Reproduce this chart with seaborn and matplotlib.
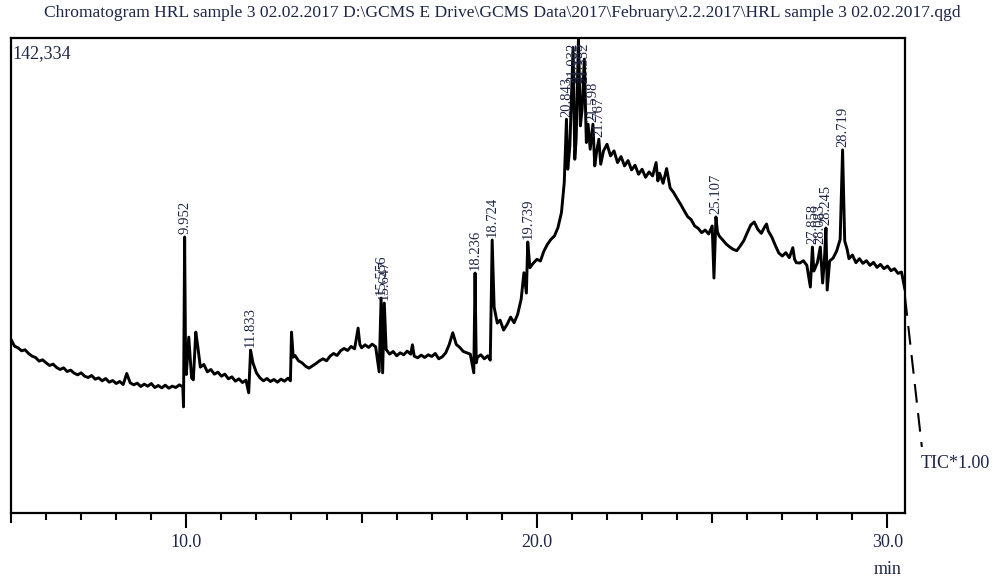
from matplotlib import pyplot as plt
from matplotlib.transforms import blended_transform_factory
import seaborn as sns
import pandas as pd

# retention time (min) and TIC intensity (x1000 counts)
times = [5.0, 5.1, 5.2, 5.3, 5.4, 5.5, 5.6, 5.7, 5.8, 5.9,
         6.0, 6.1, 6.2, 6.3, 6.4, 6.5, 6.6, 6.7, 6.8, 6.9,
         7.0, 7.1, 7.2, 7.3, 7.4, 7.5, 7.6, 7.7, 7.8, 7.9,
         8.0, 8.1, 8.2, 8.3, 8.4, 8.5, 8.6, 8.7, 8.8, 8.9,
         9.0, 9.1, 9.2, 9.3, 9.4, 9.5, 9.6, 9.7, 9.8, 9.9,
         9.92, 9.952, 9.98, 10.0, 10.07, 10.15, 10.2, 10.27, 10.33, 10.4,
         10.5, 10.6, 10.7, 10.8, 10.9, 11.0, 11.1, 11.2, 11.3, 11.4,
         11.5, 11.6, 11.7, 11.78, 11.833, 11.9, 12.0, 12.1, 12.2, 12.3,
         12.4, 12.5, 12.6, 12.7, 12.8, 12.9, 12.97, 13.0, 13.05, 13.1,
         13.2, 13.3, 13.4, 13.5, 13.6, 13.7, 13.8, 13.9, 14.0, 14.1,
         14.2, 14.3, 14.4, 14.5, 14.6, 14.7, 14.8, 14.9, 14.95, 15.0,
         15.1, 15.2, 15.3, 15.4, 15.5, 15.556, 15.6, 15.647, 15.7, 15.8,
         15.9, 16.0, 16.1, 16.2, 16.3, 16.4, 16.45, 16.5, 16.6, 16.7,
         16.8, 16.9, 17.0, 17.1, 17.2, 17.3, 17.4, 17.5, 17.6, 17.7,
         17.8, 17.9, 18.0, 18.1, 18.2, 18.236, 18.27, 18.3, 18.4, 18.5,
         18.6, 18.67, 18.724, 18.78, 18.87, 18.95, 19.05, 19.15, 19.25, 19.35,
         19.45, 19.55, 19.63, 19.7, 19.739, 19.8, 19.9, 20.0, 20.1, 20.2,
         20.3, 20.4, 20.5, 20.6, 20.7, 20.78, 20.843, 20.88, 20.94, 21.032,
         21.08, 21.12, 21.185, 21.24, 21.29, 21.352, 21.41, 21.46, 21.52, 21.598,
         21.65, 21.7, 21.767, 21.82, 21.9, 22.0, 22.1, 22.2, 22.3, 22.4,
         22.5, 22.6, 22.7, 22.8, 22.9, 23.0, 23.1, 23.2, 23.3, 23.4,
         23.45, 23.5, 23.6, 23.7, 23.8, 23.9, 24.0, 24.1, 24.2, 24.3,
         24.4, 24.5, 24.6, 24.7, 24.8, 24.9, 25.0, 25.05, 25.107, 25.15,
         25.2, 25.3, 25.4, 25.5, 25.6, 25.7, 25.8, 25.9, 26.0, 26.1,
         26.2, 26.3, 26.4, 26.5, 26.55, 26.6, 26.7, 26.8, 26.9, 27.0,
         27.1, 27.2, 27.3, 27.35, 27.4, 27.5, 27.6, 27.7, 27.8, 27.858,
         27.9, 28.0, 28.083, 28.15, 28.2, 28.245, 28.28, 28.35, 28.45, 28.55,
         28.65, 28.719, 28.78, 28.85, 28.9, 29.0, 29.1, 29.2, 29.3, 29.4,
         29.5, 29.6, 29.7, 29.8, 29.9, 30.0, 30.1, 30.2, 30.3, 30.4,
         30.5]

tic = [52.0, 50.0, 49.5, 48.6, 48.9, 47.8, 47.0, 46.6, 45.5, 45.9,
       45.0, 44.2, 44.6, 43.6, 43.0, 43.5, 42.4, 42.8, 41.9, 41.4,
       42.0, 41.0, 40.6, 41.2, 40.1, 40.5, 39.6, 40.3, 39.2, 39.7,
       38.8, 39.4, 38.5, 41.8, 39.0, 38.4, 38.9, 37.9, 38.6, 38.0,
       38.8, 37.6, 38.2, 37.5, 38.3, 37.4, 38.0, 37.6, 38.4, 37.8,
       31.8, 82.7, 44.0, 41.5, 52.7, 40.5, 39.9, 54.2, 49.7, 43.7,
       44.5, 42.3, 43.0, 41.6, 42.2, 41.0, 41.6, 40.2, 40.8, 39.5,
       40.2, 39.1, 39.8, 36.0, 48.8, 45.0, 42.0, 40.5, 39.6, 40.3,
       39.4, 40.0, 39.2, 40.1, 39.5, 40.4, 39.6, 54.2, 46.7, 47.2,
       45.6, 45.0, 44.0, 43.4, 44.1, 44.8, 45.6, 46.2, 45.6, 47.0,
       47.8, 47.2, 48.6, 49.3, 48.7, 49.9, 49.2, 55.4, 50.5, 49.5,
       50.4, 49.6, 50.6, 49.8, 42.3, 64.4, 42.0, 62.9, 49.0, 47.6,
       48.4, 47.1, 48.0, 47.4, 48.5, 47.6, 50.4, 47.0, 46.5, 47.3,
       46.6, 47.4, 46.9, 47.8, 46.2, 46.8, 48.0, 50.5, 54.0, 50.5,
       49.6, 48.4, 48.0, 47.6, 42.0, 71.9, 45.0, 46.6, 47.4, 46.2,
       47.1, 45.8, 81.8, 61.7, 56.9, 57.8, 54.8, 56.5, 58.7, 57.0,
       59.5, 64.0, 72.0, 65.9, 81.2, 73.5, 74.9, 76.0, 75.5, 78.5,
       80.5, 82.0, 83.0, 85.5, 90.0, 99.0, 118.0, 103.0, 110.0, 139.5,
       106.0, 112.0, 142.3, 116.0, 121.0, 136.0, 111.0, 116.5, 109.0, 116.5,
       104.0, 108.0, 112.0, 104.5, 108.5, 110.5, 107.0, 108.5, 105.0, 106.8,
       104.0, 105.6, 102.8, 104.2, 101.5, 103.0, 100.6, 102.2, 101.0, 105.0,
       99.5, 101.8, 98.8, 103.2, 97.4, 96.0, 94.2, 92.5, 90.6, 88.8,
       87.9, 86.0, 85.3, 84.0, 84.8, 83.6, 86.0, 70.4, 88.7, 84.2,
       83.0, 81.8, 80.6, 79.7, 79.0, 78.6, 80.0, 81.6, 84.0, 86.3,
       87.2, 85.0, 83.8, 85.8, 86.6, 84.5, 82.7, 80.2, 77.9, 77.0,
       78.0, 76.5, 79.5, 76.0, 75.0, 74.9, 75.6, 74.2, 67.7, 79.7,
       72.5, 75.0, 79.7, 68.9, 75.8, 85.4, 66.8, 75.5, 76.4, 78.5,
       82.0, 108.8, 81.5, 79.0, 76.2, 77.3, 75.0, 76.2, 74.8, 75.6,
       74.2, 75.1, 73.6, 74.5, 73.2, 74.0, 72.6, 73.2, 71.8, 72.2,
       66.8]

# trace running past the end of the window (drawn dashed)
tail_times = [30.5, 30.98]
tail_tic = [64.7, 19.8]

peak_times = [9.952, 11.833, 15.556, 15.647, 18.236, 18.724, 19.739,
              20.843, 21.032, 21.185, 21.352, 21.598, 21.767,
              25.107, 27.858, 28.083, 28.245, 28.719]

max_tic = 142.334
x_ticks = [5, 10, 15, 20, 25, 30]
x_ticklabels = ['', '10.0', '', '20.0', '', '30.0']

title = ('Chromatogram HRL sample 3 02.02.2017 D:\\GCMS E Drive\\GCMS Data\\2017\\'
         'February\\2.2.2017\\HRL sample 3 02.02.2017.qgd')

sns.set_theme(style='white')
plt.rcParams['font.family'] = ['Liberation Serif', 'DejaVu Serif']
txt_color = '#1f2547'

df = pd.DataFrame({'time': times, 'tic': tic})

fig = plt.figure(figsize=(9.93, 5.79), dpi=100)
ax = fig.add_axes([0.0111, 0.1140, 0.9003, 0.8204])

sns.lineplot(data=df, x='time', y='tic', color='black', lw=2.1, ax=ax, sort=False)
ax.plot(tail_times, tail_tic, color='black', lw=1.5, ls=(0, (9, 5)), clip_on=False)

ax.set_xlim(5.0, 30.5)
ax.set_ylim(0, max_tic)
ax.set_xlabel('')
ax.set_ylabel('')
ax.set_yticks([])

for s in ax.spines.values():
    s.set_color('black')
    s.set_linewidth(1.6)

# 刻度：10/20/30 最长，5/15/25 中等，每分钟一个短刻度
ax.set_xticks(x_ticks)
ax.set_xticklabels(x_ticklabels, fontsize=13, color=txt_color)
ax.set_xticks(range(6, 31), minor=True)
ax.tick_params(axis='x', which='both', direction='out', bottom=True,
               width=1.5, color='black')
ax.tick_params(axis='x', which='major', length=11, pad=4)
ax.tick_params(axis='x', which='minor', length=5)
for val, tick in zip(x_ticks, ax.xaxis.get_major_ticks()):
    if val % 10 != 0:
        tick.tick1line.set_markersize(7.5)

# 峰标签，太高的峰把标签往下压，别顶出图片
label_cap = 128
lookup = dict(zip(times, tic))
for t in peak_times:
    ax.text(t, min(lookup[t], label_cap) + 0.8, '{:.3f}'.format(t), rotation=90,
            ha='center', va='bottom', fontsize=10.5, color=txt_color,
            clip_on=False)

ax.text(0.002, 0.985, '{:,}'.format(int(max_tic * 1000)), transform=ax.transAxes,
        ha='left', va='top', fontsize=13, color=txt_color)

trans = blended_transform_factory(ax.transData, fig.transFigure)
ax.text(30.0, 1 - 570 / 579, 'min', transform=trans, ha='center', va='center',
        fontsize=13, color=txt_color)
ax.text(30.96, 1 - 463 / 579, 'TIC*1.00', transform=trans, ha='left', va='center',
        fontsize=13, color=txt_color)

fig.text(0.5055, 1 - 13 / 579, title, ha='center', va='center',
         fontsize=12.6, color=txt_color)

plt.savefig('out.png', dpi=100)
plt.close()
